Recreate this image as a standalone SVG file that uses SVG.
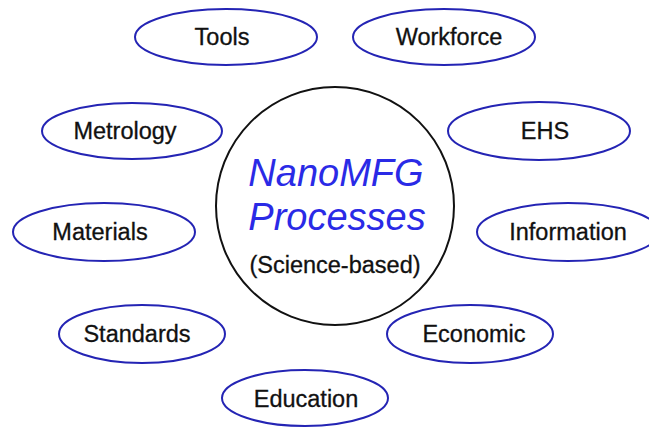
<svg xmlns="http://www.w3.org/2000/svg" width="649" height="427" viewBox="0 0 649 427">
<style>
.n ellipse{fill:#fff;stroke:#2424b4;stroke-width:2}
.n text{font-family:"Liberation Sans",Arial,sans-serif;font-size:23.5px;fill:#111;stroke:#111;stroke-width:0.3;text-anchor:middle}
.c text{font-family:"Liberation Sans",Arial,sans-serif;text-anchor:middle}
</style>
<rect width="649" height="427" fill="#fff"/>
<g id="connectors"></g>
<g id="center" class="c">
<circle cx="335" cy="206" r="119" fill="#fff" stroke="#111" stroke-width="2"/>
<text x="336" y="186" font-size="38" font-style="italic" fill="#2a2ae6">NanoMFG</text>
<text x="337" y="230" font-size="38" font-style="italic" fill="#2a2ae6">Processes</text>
<text x="335" y="273" font-size="23.5" fill="#111" stroke="#111" stroke-width="0.3">(Science-based)</text>
</g>
<g id="tools" class="n"><ellipse cx="226" cy="37" rx="91" ry="28"/><text x="222" y="45">Tools</text></g>
<g id="workforce" class="n"><ellipse cx="444" cy="37" rx="91" ry="28"/><text x="449" y="45">Workforce</text></g>
<g id="metrology" class="n"><ellipse cx="132" cy="131" rx="90" ry="28"/><text x="125" y="139">Metrology</text></g>
<g id="ehs" class="n"><ellipse cx="539" cy="131" rx="91" ry="29"/><text x="545" y="139">EHS</text></g>
<g id="materials" class="n"><ellipse cx="104" cy="232" rx="91" ry="29"/><text x="100" y="240">Materials</text></g>
<g id="information" class="n"><ellipse cx="568" cy="232" rx="91" ry="29"/><text x="568" y="240">Information</text></g>
<g id="standards" class="n"><ellipse cx="142" cy="334" rx="83" ry="29"/><text x="137" y="342">Standards</text></g>
<g id="economic" class="n"><ellipse cx="470" cy="334" rx="83" ry="29"/><text x="474" y="342">Economic</text></g>
<g id="education" class="n"><ellipse cx="305" cy="398" rx="83" ry="28"/><text x="306" y="407">Education</text></g>
</svg>
